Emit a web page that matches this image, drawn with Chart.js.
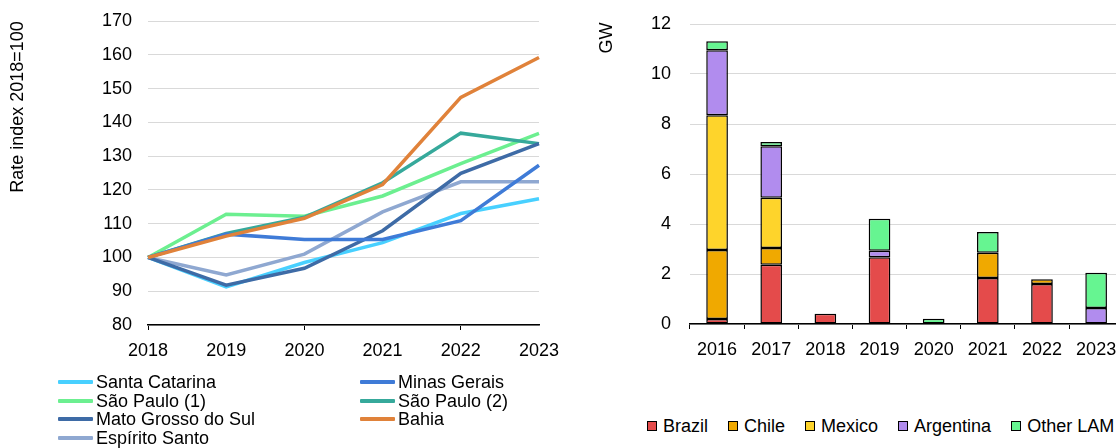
<!DOCTYPE html>
<html>
<head>
<meta charset="utf-8">
<script src="https://cdn.jsdelivr.net/npm/chart.js@4/dist/chart.umd.min.js"></script>
<style>
  html, body { margin: 0; padding: 0; background: #fff; }
  body { width: 1116px; height: 448px; overflow: hidden; position: relative;
         font-family: "Liberation Sans", Arial, sans-serif; color: #000; }
  #c1 { position: absolute; left: 0; top: 0; }
  #c2 { position: absolute; left: 560px; top: 0; }
  .lg { position: absolute; font-size: 18px; line-height: 18.5px; white-space: nowrap; }
  .li { position: absolute; display: flex; align-items: center; }
  .ls { display: inline-block; width: 35px; height: 4px; margin-right: 3px; border-radius: 1px; }
  .bi { display: flex; align-items: center; margin-right: 20px; }
  .bs { display: inline-block; width: 8px; height: 8px; border: 1px solid #000; margin-right: 6px; }
</style>
</head>
<body>
<canvas id="c2" width="600" height="365"></canvas>
<canvas id="c1" width="600" height="365"></canvas>
<div id="leg1" class="lg" style="left:0;top:373px;width:560px;height:80px;"></div>
<div id="leg2" class="lg" style="left:647px;top:417px;display:flex;"></div>
<script>
// ---------- Left chart data ----------
const years = ["2018", "2019", "2020", "2021", "2022", "2023"];
const santaCatarina   = [100, 91.3, 98.5, 104.4, 113.0, 117.4];
const minasGerais     = [100, 106.9, 105.3, 105.3, 110.9, 127.3];
const saoPaulo1       = [100, 112.8, 112.2, 118.2, 127.8, 136.7];
const saoPaulo2       = [100, 107.1, 111.9, 122.1, 136.8, 133.7];
const matoGrossoDoSul = [100, 91.8, 96.8, 107.9, 124.9, 133.7];
const bahia           = [100, 106.3, 111.6, 121.6, 147.4, 159.2];
const espiritoSanto   = [100, 94.8, 101.0, 113.5, 122.4, 122.4];
const seriesNames = ["Santa Catarina", "Minas Gerais", "São Paulo (1)", "São Paulo (2)", "Mato Grosso do Sul", "Bahia", "Espírito Santo"];
const leftTicks = [80, 90, 100, 110, 120, 130, 140, 150, 160, 170];

// ---------- Right chart data ----------
const barYears = ["2016", "2017", "2018", "2019", "2020", "2021", "2022", "2023"];
const brazil    = [0.20, 2.37, 0.41, 2.67, null, 1.84, 1.60, null];
const chile     = [2.76, 0.67, null, null, null, 1.01, 0.19, null];
const mexico    = [5.39, 2.01, null, null, null, null, null, null];
const argentina = [2.60, 2.06, null, 0.26, null, null, null, 0.64];
const otherLAM  = [0.36, 0.17, null, 1.28, 0.21, 0.83, null, 1.41];
const barNames = ["Brazil", "Chile", "Mexico", "Argentina", "Other LAM"];
const rightTicks = [0, 2, 4, 6, 8, 10, 12];

// ---------- styles ----------
const FONT = '"Liberation Sans", Arial, sans-serif';
Chart.defaults.font.family = FONT;
Chart.defaults.font.size = 18;
Chart.defaults.color = '#000';

const lineColors = ["#48d0ff", "#3f7bd7", "#6cef90", "#36a99b", "#3e6ba6", "#e0823a", "#8fa8d1"];
const lineOrder  = [6, 1, 4, 3, 2, 0, 5];
const barColors  = ["#e44b4b", "#f0a900", "#fed42b", "#b18cee", "#66f591"];

const lineValues = [santaCatarina, minasGerais, saoPaulo1, saoPaulo2, matoGrossoDoSul, bahia, espiritoSanto];
const barValues  = [brazil, chile, mexico, argentina, otherLAM];

function titlePlugin(text, x, y) {
  return {
    id: 'vtitle',
    afterDraw(chart) {
      const c = chart.ctx;
      c.save();
      c.translate(x, y);
      c.rotate(-Math.PI / 2);
      c.font = '18px ' + FONT;
      c.fillStyle = '#000';
      c.textAlign = 'center';
      c.textBaseline = 'middle';
      c.fillText(text, 0, 0);
      c.restore();
    }
  };
}

// ---------- left line chart ----------
new Chart(document.getElementById('c1'), {
  type: 'line',
  data: {
    labels: years,
    datasets: lineValues.map((v, i) => ({
      label: seriesNames[i], data: v,
      borderColor: lineColors[i], backgroundColor: lineColors[i],
      borderWidth: 3.5, pointRadius: 0, tension: 0, order: lineOrder[i]
    }))
  },
  options: {
    responsive: false, devicePixelRatio: 1, animation: false,
    layout: { padding: { top: 21, right: 61, left: 0, bottom: 0 } },
    plugins: { legend: { display: false }, tooltip: { enabled: false } },
    scales: {
      x: {
        offset: false,
        grid: { drawOnChartArea: false, drawTicks: true, tickLength: 5,
          color: (ctx) => (ctx.index % 2 === 0 ? '#000' : 'rgba(0,0,0,0)') },
        border: { display: true, color: '#000', width: 1.5 },
        ticks: { padding: 10, maxRotation: 0, autoSkip: false },
        afterFit(s) { s.height = 40; }
      },
      y: {
        min: 80, max: 170,
        afterBuildTicks(s) { s.ticks = leftTicks.map(v => ({ value: v })); },
        grid: { color: '#d9d9d9', lineWidth: 1, drawTicks: false },
        border: { display: false },
        ticks: { padding: 16 },
        afterFit(s) { s.width = 148; s.paddingTop = 0; s.paddingBottom = 0; }
      }
    }
  },
  plugins: [titlePlugin('Rate index 2018=100', 18, 107)]
});

// ---------- right stacked bar chart ----------
new Chart(document.getElementById('c2'), {
  type: 'bar',
  data: {
    labels: barYears,
    datasets: barValues.map((v, i) => ({
      label: barNames[i], data: v, backgroundColor: barColors[i],
      borderColor: '#000', borderWidth: 1.5, borderSkipped: false,
      barPercentage: 0.4, categoryPercentage: 1
    }))
  },
  options: {
    responsive: false, devicePixelRatio: 1, animation: false,
    layout: { padding: { top: 24, right: 36.8, left: 0, bottom: 0 } },
    plugins: { legend: { display: false }, tooltip: { enabled: false } },
    scales: {
      x: {
        stacked: true,
        grid: { drawOnChartArea: false, drawTicks: true, tickLength: 5, color: '#000', offset: true },
        border: { display: true, color: '#000', width: 1.5 },
        ticks: { padding: 10, maxRotation: 0, autoSkip: false },
        afterFit(s) { s.height = 41; }
      },
      y: {
        stacked: true, min: 0, max: 12,
        afterBuildTicks(s) { s.ticks = rightTicks.map(v => ({ value: v })); },
        grid: { color: '#d9d9d9', lineWidth: 1, drawTicks: false },
        border: { display: false },
        ticks: { padding: 19 },
        afterFit(s) { s.width = 130; s.paddingTop = 0; s.paddingBottom = 0; }
      }
    }
  },
  plugins: [titlePlugin('GW', 47, 38)]
});

// ---------- legends (HTML text) ----------
const leg1 = document.getElementById('leg1');
const colLeft = [58, 360];
seriesNames.forEach((name, i) => {
  const d = document.createElement('div');
  d.className = 'li';
  d.style.left = colLeft[i % 2] + 'px';
  d.style.top = (Math.floor(i / 2) * 18.5) + 'px';
  d.innerHTML = '<span class="ls" style="background:' + lineColors[i] + '"></span><span></span>';
  d.lastChild.textContent = name;
  leg1.appendChild(d);
});
const leg2 = document.getElementById('leg2');
barNames.forEach((name, i) => {
  const d = document.createElement('div');
  d.className = 'bi';
  d.innerHTML = '<span class="bs" style="background:' + barColors[i] + '"></span><span></span>';
  d.lastChild.textContent = name;
  leg2.appendChild(d);
});
</script>
</body>
</html>
